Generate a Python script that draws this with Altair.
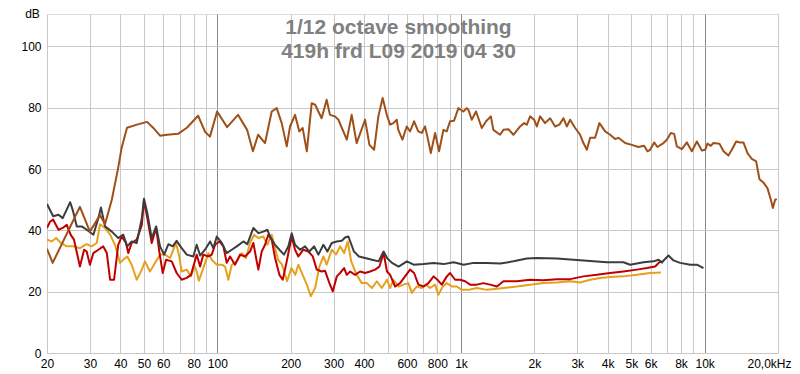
import altair as alt
import pandas as pd

# ---- data (frequency in Hz, level in dB) ----
brown = [(20, 34), (21.1, 29.4), (27.3, 47.7), (30, 39.6), (33, 45), (34.6, 42), (36.9, 50), (39.1, 60),
         (40.5, 67), (42.6, 73.5), (46.8, 74.5), (51.5, 75.4), (54.5, 73.5), (58.2, 70.9), (62.2, 71.2),
         (69, 71.5), (75, 73.5), (83.4, 77.4), (89, 72.2), (93.3, 70.6), (99.8, 78.8), (109.7, 73.7),
         (121.6, 77.7), (132.5, 72.8), (140, 65.8), (147, 71.2), (157, 68.5), (167.2, 78.8), (175.3, 79.9),
         (183.8, 75), (192.7, 67.4), (198.8, 73.9), (208.4, 77.7), (217, 72.3), (224, 73.4), (233, 65.8),
         (244, 81.5), (252, 81), (268, 76.6), (281, 82.6), (290, 77.7), (304, 77.2), (314, 76.1), (340, 69.6),
         (356, 77.7), (373, 68.5), (404, 76.1), (421, 67.9), (440, 66.3), (458, 77.2), (477, 83.2), (496, 77.7),
         (512, 74.5), (528, 75), (545, 76.1), (553, 72.8), (575, 69.6), (599, 73.9), (618, 72.3), (642, 75.6),
         (668, 72.3), (690, 71.8), (712, 73.9), (728, 70.6), (752, 65.2), (783, 71.8), (813, 65.8), (847, 72.8),
         (874, 72.3), (902, 75.6), (937, 75.8), (976, 79.9), (1023, 78.8), (1056, 79.9), (1072, 79.4),
         (1107, 76.1), (1153, 78.8), (1217, 73.4), (1268, 75.6), (1326, 77.2), (1358, 72.8), (1447, 71.2),
         (1493, 72.8), (1565, 73), (1641, 71.2), (1748, 73.9), (1816, 75), (1863, 74.5), (1922, 77.2),
         (1996, 76.1), (2048, 73.9), (2112, 77.2), (2214, 75), (2322, 76.6), (2434, 73.9), (2535, 74.5),
         (2633, 76.6), (2719, 73.9), (2805, 76.1), (2941, 73.4), (3083, 71.2), (3181, 68.5), (3285, 66.3),
         (3388, 70.2), (3552, 70.2), (3700, 75), (3905, 72.3), (4094, 71.2), (4292, 69.8), (4428, 70.2),
         (4717, 68.5), (5024, 67.9), (5347, 67.2), (5643, 67.6), (5823, 65.8), (5974, 66.3), (6204, 68.7),
         (6400, 67.2), (6776, 68.5), (6996, 69.6), (7265, 71.8), (7496, 71.5), (7690, 67.4), (8063, 66.5),
         (8453, 68.7), (8862, 65.8), (9290, 69), (9739, 66.1), (10050, 66.3), (10270, 68.3), (10600, 67.6),
         (10870, 68.5), (11500, 68.3), (11950, 65.8), (12520, 64.4), (12930, 66.3), (13470, 69), (13980, 68.7),
         (14430, 68.7), (14990, 65.2), (15620, 63.3), (16270, 62.5), (16790, 56.7), (17430, 55.6),
         (18100, 53.8), (18700, 50), (19050, 47.3), (19470, 50), (19790, 50.2)]

grey = [(20, 48.6), (21.2, 44.6), (22.3, 45.1), (23.2, 44), (24.9, 49.2), (25.6, 46.2), (26.5, 41.3),
        (27.8, 41.3), (29.1, 40.2), (31, 38.6), (32.5, 44), (33.3, 47.5), (34.6, 41.3), (36.9, 39.6),
        (39.2, 37.5), (41.1, 38.6), (42.7, 34.8), (44.5, 36.4), (46.7, 35.9), (49, 44), (50, 50.3),
        (51.6, 45.7), (53.8, 37.5), (56.1, 41.3), (58.2, 34.8), (60.5, 32.1), (63, 35.5), (65.6, 34.8),
        (68.1, 36.6), (71.4, 34.2), (74.9, 32.1), (79.7, 31.5), (82.3, 35.3), (85, 31.8), (89, 33.7),
        (93.4, 36.4), (96.3, 34.2), (99.5, 38), (104.3, 35.9), (109.3, 32.6), (114.6, 33.7), (120.2, 34.8),
        (127.9, 36.4), (132.8, 35.5), (140.6, 40.8), (147.4, 39.1), (154.5, 39.6), (160.5, 40.2),
        (165.7, 37.5), (172.6, 35.3), (179.8, 33.7), (187.9, 32.1), (195.7, 34.8), (202, 39.1), (208.4, 35.3),
        (218.6, 33.7), (229.2, 34.8), (238.6, 33.1), (249.5, 34.8), (259.9, 32.1), (272.5, 35.3), (283, 33.1),
        (295, 35.9), (309.3, 36.4), (324.3, 36.6), (334.5, 37.7), (345.2, 38), (363.8, 33.1), (381.4, 31.5),
        (404, 31), (431.4, 30.4), (459.2, 29.9), (481.4, 33.1), (497, 31), (521, 29.4), (554.6, 28.2),
        (600, 29.9), (639, 28.8), (702.6, 29), (772, 29.4), (849, 29), (933, 29.6), (1026, 28.8),
        (1127, 29.4), (1279, 29.4), (1451, 29.2), (1642, 29.9), (1863, 30.8), (2048, 31), (2474, 30.8),
        (2894, 30.4), (3285, 30.1), (3970, 29.6), (4642, 29.6), (4947, 28.8), (5610, 29.6), (6166, 29.9),
        (6464, 30.4), (6676, 29.6), (7104, 31.8), (7448, 30.2), (7934, 29.4), (8722, 28.8), (9292, 28.8),
        (9890, 27.7)]

red = [(20, 40.8), (20.6, 42.9), (21.2, 43.5), (22.3, 40.2), (23.2, 40.8), (24.1, 41.8), (25, 38.6),
       (25.8, 37), (27.3, 28.2), (28.4, 33.7), (29.1, 33.1), (30, 28.8), (31, 32.6), (32.5, 33.7), (34, 34.8),
       (35.2, 32.6), (36.3, 23.9), (37.7, 23.9), (39.2, 35.3), (40.5, 38), (42.2, 35.9), (43.1, 32.6),
       (44.5, 35.9), (46.7, 37), (49, 41.8), (50, 49.7), (51.6, 44), (53.8, 35.9), (56.1, 40.8), (57.8, 33.1),
       (59.7, 26.1), (61.6, 30.4), (65, 29.9), (68.1, 26.1), (71.4, 23.9), (74.9, 24.5), (78, 25.5),
       (82.3, 32.1), (85, 28.2), (87.6, 32.1), (91.9, 31.5), (94.9, 32.1), (97.9, 35.3), (102, 36.4),
       (105.9, 34.8), (109.3, 29.4), (112.8, 31.5), (118.2, 28.8), (123.9, 32.1), (129.9, 31.5),
       (136.2, 33.1), (140.6, 35.9), (145.1, 29.9), (147.4, 27.2), (152.1, 33.1), (157, 35.3), (161.9, 38.6),
       (167.2, 37), (172.6, 31), (179.8, 25.5), (185.6, 23.9), (192.7, 29.9), (198.8, 35.3), (202, 38),
       (208.4, 33.7), (215, 31.5), (225.4, 33.7), (236.4, 33.1), (246.5, 31.5), (256, 27.2), (268, 26.6),
       (276.8, 26.8), (288.4, 22.8), (297.8, 20.1), (309.3, 25), (319, 26.1), (331.4, 27.7), (339.8, 25.5),
       (350.6, 26.6), (367.6, 25.5), (385.4, 26.6), (404, 26.1), (423.6, 26.6), (444.2, 27.2), (462.6, 28.2),
       (481.4, 32.6), (497, 26.6), (512, 25.5), (536.6, 21.7), (562.4, 22.8), (589.6, 25), (618, 27.2),
       (642, 26.1), (668.8, 22.3), (702.6, 21.7), (735, 22.8), (772, 25), (800, 23.9), (834, 22.3), (875, 25),
       (902, 26.1), (946, 23.9), (992, 23.9), (1040, 23.4), (1090, 22.3), (1162, 22.3), (1236, 22.8),
       (1317, 22.3), (1404, 21.7), (1494, 23.4), (1695, 23.4), (1922, 23.9), (2180, 23.7), (2474, 24.1),
       (2805, 24.1), (3181, 25), (3612, 25.5), (4094, 26.1), (4642, 26.6), (5272, 27.2), (5792, 27.7),
       (6264, 28.2), (6570, 29.9), (6740, 29.4)]

orange = [(20, 37), (20.9, 36.4), (21.8, 37.5), (22.8, 35.9), (24.1, 34.8), (25.6, 34.8), (27.3, 34.2),
          (29.1, 35.5), (30.5, 34.8), (32, 35.9), (33, 42), (34.6, 40.8), (36.3, 38.6), (38, 35.3), (39.9, 29.4),
          (41.1, 30.4), (42.7, 31.5), (44.5, 28.8), (46.7, 23.9), (49, 27.2), (50.5, 29.9), (52.9, 26.6),
          (55.5, 29.4), (58.2, 32.1), (61, 32.1), (64, 31), (66, 33.7), (67.7, 35.9), (69.8, 31.5), (71.4, 26.6),
          (74.9, 27.2), (78, 25), (80.5, 28.5), (82.3, 26.6), (84, 23.6), (87.6, 27.7), (91.9, 32.6),
          (94.9, 30.4), (99.5, 28.8), (104.3, 28.8), (107.6, 28.2), (111, 23.9), (114.6, 28.8), (120.2, 29.9),
          (126, 32.6), (131.2, 31), (136.2, 35.9), (141.5, 38.6), (147.4, 37.5), (154.5, 38), (160.5, 35.3),
          (167.2, 38.6), (177.6, 30.4), (184.4, 28.8), (193.3, 23.4), (201.4, 27.7), (209, 25.5), (215, 28.8),
          (225.4, 25), (233, 22.3), (241.8, 18.5), (252, 21.2), (262.4, 28.2), (272.5, 31.5), (281, 28.8),
          (295, 33.7), (307.2, 32.1), (319, 34.8), (331.4, 32.6), (343, 36.4), (354.4, 29.9), (373, 25.5),
          (391.6, 22.8), (410.6, 22.8), (431.4, 21.2), (451.4, 23.4), (473.2, 21.2), (497, 23.9), (512, 21.2),
          (528, 23.9), (554.6, 21.7), (580.2, 22.3), (608.4, 22.8), (628.2, 19.6), (658.6, 21.7), (690, 21.2),
          (719.2, 22.3), (746.8, 21.2), (783, 22.3), (807.8, 19), (842.2, 21.7), (875, 22.8), (917.2, 21.7),
          (961.6, 21.7), (1008, 20.6), (1073, 20.6), (1162, 21.2), (1279, 20.6), (1404, 21), (1494, 21.2),
          (1695, 21.7), (1922, 22.3), (2180, 22.8), (2474, 23), (2805, 23.4), (3083, 23), (3388, 23.9),
          (3724, 24.5), (4094, 24.8), (4642, 25), (5272, 25.5), (5974, 26.1), (6614, 26.3)]

# axis values
x_grid_values = [20, 30, 40, 50, 60, 70, 80, 90, 100, 200, 300, 400, 500, 600, 700, 800, 900,
                 1000, 2000, 3000, 4000, 5000, 6000, 7000, 8000, 9000, 10000, 20000]
x_labels = {20: "20", 30: "30", 40: "40", 50: "50", 60: "60", 80: "80", 100: "100", 200: "200",
            300: "300", 400: "400", 600: "600", 800: "800", 1000: "1k", 2000: "2k", 3000: "3k",
            4000: "4k", 5000: "5k", 6000: "6k", 8000: "8k", 10000: "10k", 20000: "20,0kHz"}
x_major = [100, 1000, 10000]
y_values = [0, 20, 40, 60, 80, 100]
title_lines = ["1/12 octave smoothing", "419h frd L09 2019 04 30"]

label_expr = " : ".join(f"datum.value == {v} ? '{t}'" for v, t in x_labels.items()) + " : ''"
major_test = " || ".join(f"datum.value == {v}" for v in x_major)

FONT = "Liberation Sans"

x_scale = alt.Scale(type="log", domain=[20, 20000], nice=False)
y_scale = alt.Scale(domain=[0, 110.6], nice=False, zero=False)

x_axis = alt.Axis(values=x_grid_values, labelExpr=label_expr, title=None, ticks=False, tickSize=0,
                  domain=False, grid=True,
                  gridColor={"condition": {"test": major_test, "value": "#8a8a8a"}, "value": "#c8c8c8"},
                  gridWidth=1, labelFont=FONT, labelFontSize=12, labelColor="#000000",
                  labelPadding=5, labelFlush=False, labelOverlap=False, labelBound=False,
                  labelOffset={"condition": {"test": "datum.value >= 19999", "value": -9}, "value": 0})
y_axis = alt.Axis(values=y_values, title="dB", titleAngle=0, titleX=-15, titleY=3,
                  titleAlign="center", titleBaseline="alphabetic", titleFont=FONT, titleFontSize=12,
                  titleFontWeight="normal", titleColor="#000000",
                  ticks=False, tickSize=0, domain=False, grid=True, gridColor="#c8c8c8", gridWidth=1,
                  labelFont=FONT, labelFontSize=12, labelColor="#000000", labelPadding=6)


def series_df(pairs):
    return pd.DataFrame({"f": [p[0] for p in pairs], "db": [p[1] for p in pairs]})


def line_layer(pairs, color):
    return alt.Chart(series_df(pairs)).mark_line(color=color, strokeWidth=2, clip=True,
                                                strokeJoin="round").encode(
        x=alt.X("f:Q", scale=x_scale, axis=x_axis),
        y=alt.Y("db:Q", scale=y_scale, axis=y_axis),
    )


chart = alt.layer(
    line_layer(orange, "#e6a01e"),
    line_layer(red, "#c00000"),
    line_layer(grey, "#3c3c3c"),
    line_layer(brown, "#9e5018"),
).properties(
    width=731, height=339,
    title=alt.TitleParams(text=title_lines, fontSize=21, fontWeight="bold", color="#808080",
                          font=FONT, anchor="middle", frame="group", offset=-55, dx=-14, lineHeight=24),
    autosize=alt.AutoSizeParams(type="none"),
    padding={"left": 39, "top": 6, "right": 14, "bottom": 17},
).configure_view(stroke="#b0b0b0", strokeWidth=2).configure(background="#ffffff")

chart.save("out.html", embed_options={"renderer": "svg", "actions": False})
